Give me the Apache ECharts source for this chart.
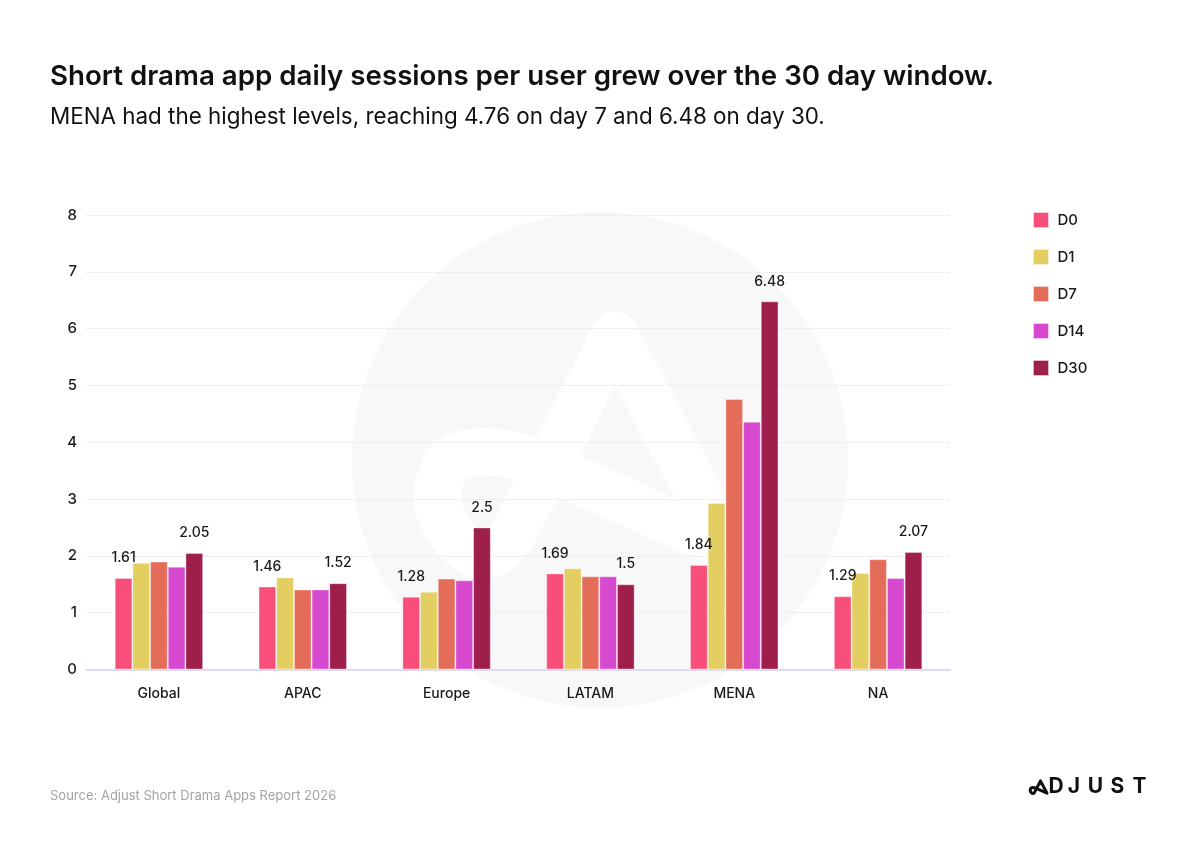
<!DOCTYPE html>
<html>
<head>
<meta charset="utf-8">
<script src="https://cdn.jsdelivr.net/npm/echarts@6/dist/echarts.min.js"></script>
<style>
  html, body { margin: 0; padding: 0; background: #fff; }
  #chart { width: 1200px; height: 850px; }
</style>
</head>
<body>
<div id="chart"></div>
<script>
// 数据
var regions = ["Global", "APAC", "Europe", "LATAM", "MENA", "NA"];
var seriesNames = ["D0", "D1", "D7", "D14", "D30"];
var d0 = [1.61, 1.46, 1.28, 1.69, 1.84, 1.29];
var d1 = [1.88, 1.62, 1.37, 1.78, 2.93, 1.70];
var d7 = [1.90, 1.41, 1.60, 1.64, 4.76, 1.94];
var d14 = [1.81, 1.41, 1.57, 1.64, 4.36, 1.61];
var d30 = [2.05, 1.52, 2.5, 1.5, 6.48, 2.07];
var yTicks = [0, 1, 2, 3, 4, 5, 6, 7, 8];

var colors = ["#F74F7A", "#E3CE62", "#E46D5A", "#D749CF", "#9E1F4B"];
var allData = [d0, d1, d7, d14, d30];
var labelled = ["D0", "D30"];

var FONT = "Inter, 'Noto Sans', sans-serif";

// 背景的 A 标志 (像素坐标)
var logoPath = "M 727.7 547.7 L 615 335 L 513.3 533.3 Q 490 570 460 543.3 Q 423.3 506.7 446.7 463.3 Q 473.3 440 540 463.3 Z";

var chart = echarts.init(document.getElementById("chart"), null, { renderer: "canvas" });

var series = seriesNames.map(function (name, i) {
  return {
    name: name,
    type: "bar",
    data: allData[i],
    barGap: "0%",
    barCategoryGap: "38.5%",
    itemStyle: {
      color: colors[i],
      borderColor: "rgba(255,255,255,0.35)",
      borderWidth: 1
    },
    label: {
      show: labelled.indexOf(name) >= 0,
      position: "top",
      distance: 13,
      color: "#1a1a1a",
      fontSize: 14,
      fontWeight: 500,
      fontFamily: FONT
    },
    z: 5
  };
});

// 水印和右下角 logo 用 custom 系列画 path
series.push({
  type: "custom",
  coordinateSystem: "none",
  silent: true,
  z: -5,
  data: [0],
  renderItem: function () {
    var s = 0.058;
    return {
      type: "group",
      children: [
        {
          type: "path",
          shape: { pathData: logoPath },
          style: { fill: null, stroke: "#fff", lineWidth: 47, lineJoin: "round", lineCap: "round" }
        },
        {
          type: "path",
          shape: { pathData: logoPath },
          x: 1028 - 400 * s, y: 779 - 312 * s + 0.5,
          scaleX: s, scaleY: s,
          style: { fill: null, stroke: "#111", lineWidth: 52, lineJoin: "round", lineCap: "round" }
        }
      ]
    };
  }
});

var logoLetters = [["D", 1056], ["J", 1074], ["U", 1095.5], ["S", 1117.5], ["T", 1139.5]];

var graphics = [
  { type: "circle", shape: { cx: 600, cy: 460, r: 248 }, style: { fill: "#F8F8F8" }, z: -10, silent: true },
  {
    type: "text", left: 50, top: 790,
    style: { text: "Source: Adjust Short Drama Apps Report 2026", fill: "#A3A3A3", font: "400 13px " + FONT }
  }
];
logoLetters.forEach(function (l) {
  graphics.push({
    type: "text", x: l[1], y: 787,
    style: { text: l[0], fill: "#111", font: "700 21px " + FONT, textAlign: "center", textVerticalAlign: "middle" }
  });
});

var option = {
  backgroundColor: "#fff",
  color: colors,
  animation: false,
  title: [
    {
      text: "Short drama app daily sessions per user grew over the 30 day window.",
      left: 50, top: 63, padding: 0,
      textStyle: { fontFamily: FONT, fontSize: 27.7, fontWeight: 600, color: "#111" }
    },
    {
      text: "MENA had the highest levels, reaching 4.76 on day 7 and 6.48 on day 30.",
      left: 50, top: 106, padding: 0,
      textStyle: { fontFamily: FONT, fontSize: 22.4, fontWeight: 400, color: "#111" }
    }
  ],
  legend: {
    data: seriesNames,
    orient: "vertical",
    left: 1028,
    top: 207,
    icon: "rect",
    itemWidth: 15,
    itemHeight: 15,
    itemGap: 21,
    itemStyle: { borderColor: "rgba(255,255,255,0.35)", borderWidth: 1 },
    textStyle: { fontFamily: FONT, fontSize: 15, fontWeight: 500, color: "#1a1a1a", padding: [0, 0, 0, 4] }
  },
  grid: { left: 87, right: 250, top: 215, bottom: 180.5, containLabel: false },
  xAxis: {
    type: "category",
    data: regions,
    axisTick: { show: false },
    axisLine: { lineStyle: { color: "#DCDCEE", width: 2 } },
    axisLabel: { color: "#1a1a1a", fontSize: 14, fontWeight: 500, fontFamily: FONT, margin: 17 }
  },
  yAxis: {
    type: "value",
    min: yTicks[0],
    max: yTicks[yTicks.length - 1],
    interval: 1,
    axisLine: { show: false },
    axisTick: { show: false },
    axisLabel: { color: "#1a1a1a", fontSize: 15, fontWeight: 500, fontFamily: FONT, margin: 10 },
    splitLine: { lineStyle: { color: "#E3E3E3", type: "dotted", width: 1 } }
  },
  series: series,
  graphic: graphics
};

chart.setOption(option);
</script>
</body>
</html>
